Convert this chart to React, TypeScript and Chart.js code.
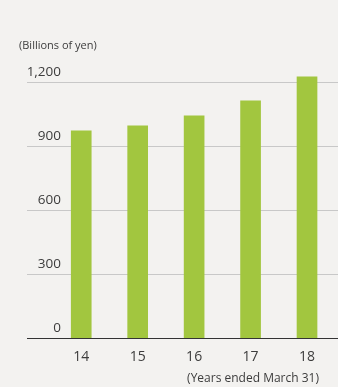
import React, { useEffect, useRef } from "react";
import { Chart, registerables } from "chart.js";

Chart.register(...registerables);

const categories = ["14", "15", "16", "17", "18"];
const revenue = [973, 996, 1043, 1113, 1226];
const yTicks = [0, 300, 600, 900, 1200];
const unitLabel = "(Billions of yen)";
const periodLabel = "(Years ended March 31)";

const BG = "#f3f2f0";
const BAR = "#a2c63f";
const GRID = "#c8c8c8";
const TEXT = "#3c3c3c";
const FONT = "'Open Sans', sans-serif";
const Y_FONT_SIZE = 13.5;

const fmt = (v: number) => Number(v).toLocaleString("en-US");

export default function App() {
  const ref = useRef<HTMLCanvasElement | null>(null);

  useEffect(() => {
    document.body.style.margin = "0";
    document.body.style.background = BG;
    const canvas = ref.current;
    if (!canvas) return;

    // measure widest y label so mirrored labels can be right-aligned at x=61
    const mctx = document.createElement("canvas").getContext("2d")!;
    mctx.font = `${Y_FONT_SIZE}px ${FONT}`;
    const widest = Math.max(...yTicks.map((v) => mctx.measureText(fmt(v)).width));
    const AXIS_LEFT = 19;
    const AREA_LEFT = 53;
    const LABEL_RIGHT = 61;

    const decor = {
      id: "decor",
      beforeDraw(chart: any) {
        const { ctx, width, height } = chart;
        ctx.save();
        ctx.fillStyle = BG;
        ctx.fillRect(0, 0, width, height);
        ctx.restore();
      },
      beforeDatasetsDraw(chart: any) {
        const { ctx, width } = chart;
        const y = chart.scales.y;
        ctx.save();
        ctx.strokeStyle = GRID;
        ctx.lineWidth = 1;
        yTicks.forEach((v) => {
          if (v === 0) return;
          const py = Math.round(y.getPixelForValue(v)) + 0.5;
          ctx.beginPath();
          ctx.moveTo(27, py);
          ctx.lineTo(width, py);
          ctx.stroke();
        });
        ctx.restore();
      },
      afterDatasetsDraw(chart: any) {
        const { ctx, width } = chart;
        const y = chart.scales.y;
        ctx.save();
        ctx.strokeStyle = "#333333";
        ctx.lineWidth = 1;
        const py = Math.round(y.getPixelForValue(0)) - 0.5;
        ctx.beginPath();
        ctx.moveTo(27, py);
        ctx.lineTo(width, py);
        ctx.stroke();
        ctx.fillStyle = TEXT;
        ctx.font = `12px ${FONT}`;
        ctx.textAlign = "right";
        ctx.textBaseline = "middle";
        ctx.fillText(periodLabel, 319, 379);
        ctx.restore();
      },
    };

    const chart = new Chart(canvas, {
      type: "bar",
      data: {
        labels: categories,
        datasets: [
          {
            data: revenue,
            backgroundColor: BAR,
            borderWidth: 0,
            barThickness: 20,
          },
        ],
      },
      options: {
        animation: false,
        responsive: false,
        maintainAspectRatio: false,
        layout: { padding: { left: AXIS_LEFT, right: 2.75, top: 0, bottom: 21.5 } },
        plugins: {
          legend: { display: false },
          tooltip: { enabled: false },
          title: {
            display: true,
            text: unitLabel,
            align: "start",
            color: TEXT,
            font: { family: FONT, size: 11, weight: "normal" },
            padding: { top: 39, bottom: 8.75 },
          },
        },
        scales: {
          x: {
            grid: { display: false, drawTicks: false },
            border: { display: false },
            afterFit(scale: any) {
              scale.height = 27;
            },
            ticks: {
              color: TEXT,
              padding: 10,
              font: { family: FONT, size: 14 },
            },
          },
          y: {
            min: 0,
            max: 1300,
            grid: { display: false, drawTicks: false },
            border: { display: false },
            afterBuildTicks(scale: any) {
              scale.ticks = yTicks.map((v) => ({ value: v }));
            },
            afterFit(scale: any) {
              scale.width = AREA_LEFT - AXIS_LEFT;
            },
            ticks: {
              color: TEXT,
              mirror: true,
              crossAlign: "far",
              padding: LABEL_RIGHT - AREA_LEFT - widest,
              labelOffset: -10,
              font: { family: FONT, size: Y_FONT_SIZE },
              callback: (v: any) => fmt(v),
            },
          },
        },
      },
      plugins: [decor],
    });
    return () => chart.destroy();
  }, []);

  return (
    <div style={{ width: 338, height: 387, background: BG }}>
      <canvas ref={ref} width={338} height={387} style={{ display: "block" }} />
    </div>
  );
}
